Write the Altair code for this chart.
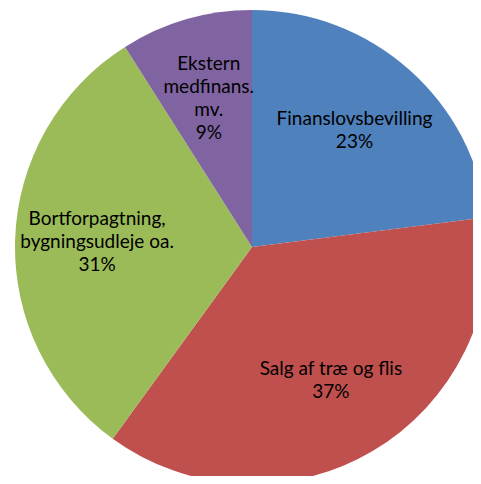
import altair as alt
import pandas as pd

categories = [
    "Finanslovsbevilling",
    "Salg af træ og flis",
    "Bortforpagtning,\nbygningsudleje oa.",
    "Ekstern\nmedfinans.\nmv.",
]
values = [23, 37, 31, 9]
colors = ["#4F81BD", "#C0504D", "#9BBB59", "#8064A2"]

df = pd.DataFrame({"category": categories, "value": values, "idx": list(range(len(values)))})

cx, cy, R = 244, 239, 237
LR, LH = 155, 23

arc = alt.Chart(df).mark_arc(outerRadius=R, stroke=None).encode(
    theta=alt.Theta("value:Q", stack=True),
    order=alt.Order("idx:Q", sort="ascending"),
    color=alt.Color("category:N", scale=alt.Scale(domain=categories, range=colors), legend=None),
    x=alt.value(cx),
    y=alt.value(cy),
)

text = alt.Chart(df).transform_window(
    cum="sum(value)", sort=[alt.SortField("idx", order="ascending")]
).transform_joinaggregate(
    total="sum(value)"
).transform_calculate(
    label="datum.category + '\\n' + datum.value + '%'",
    mid="(datum.cum - datum.value / 2) / datum.total * 2 * PI",
).transform_calculate(
    nl="length(split(datum.label, '\\n'))",
).transform_calculate(
    px=f"{cx} + {LR} * sin(datum.mid)",
    py=f"{cy} - {LR} * cos(datum.mid) - (datum.nl - 1) * {LH} / 2",
).mark_text(
    font="Lato",
    fontSize=19,
    lineHeight=LH,
    lineBreak="\n",
    color="#000000",
    align="center",
    baseline="middle",
).encode(
    text="label:N",
    x=alt.X("px:Q", scale=None),
    y=alt.Y("py:Q", scale=None),
)

chart = (arc + text).properties(
    width=465,
    height=468,
    padding=0,
    autosize=alt.AutoSizeParams(type="none"),
    background="white",
).configure_view(stroke=None)

chart.save("out.html", embed_options={"renderer": "svg", "actions": False})
